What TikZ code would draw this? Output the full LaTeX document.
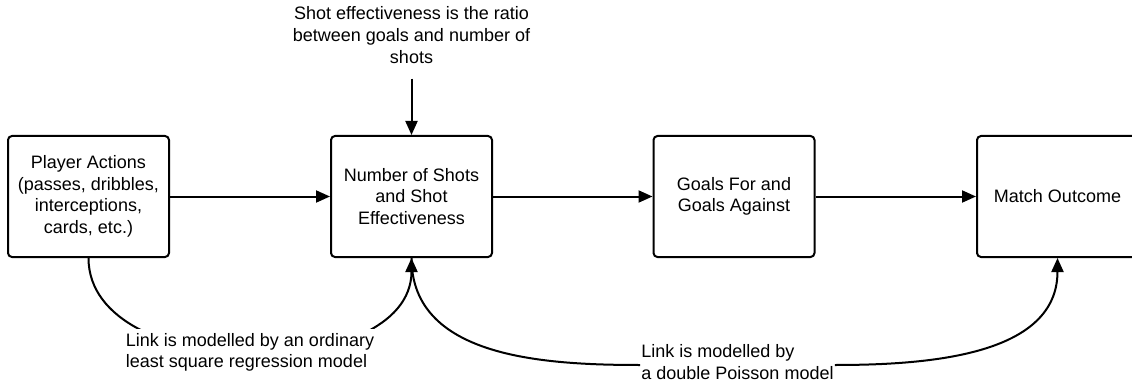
\documentclass[tikz,border=0pt]{standalone}
\usepackage{fontspec}
\setmainfont{Liberation Sans}
\usetikzlibrary{arrows.meta}

\begin{document}
\begin{tikzpicture}[x=1pt,y=-1pt,
		font=\fontsize{18}{21.6}\selectfont,
		stage/.style={draw, line width=2pt, rounded corners=4pt, minimum width=161pt, minimum height=121pt, align=center},
		remark/.style={align=left, inner sep=4pt},
		link/.style={line width=2pt, -{Triangle[length=14pt,width=12pt]}}]
	
	\useasboundingbox (0,0) rectangle (1132,385);
	\clip (0,0) rectangle (1132,385);
	
	\node[stage] (actions) at (88.5,196.5) {Player Actions\\(passes, dribbles,\\interceptions,\\cards, etc.)};
	\node[stage] (shots) at (411.5,196.5) {Number of Shots\\and Shot\\Effectiveness};
	\node[stage] (goals) at (734,196.5) {Goals For and\\Goals Against};
	\node[stage] (outcome) at (1057.5,196.5) {Match Outcome};
	
	\node[align=center] (ratio) at (411.5,35) {Shot effectiveness is the ratio\\between goals and number of\\shots};
	\node[remark, inner sep=1pt] (poisson) at (737.5,362) {Link is modelled by\\a double Poisson model};
	
	\draw[link] ([yshift=-12pt]ratio.south) -- (shots.north);
	\draw[link] (actions) -- (shots);
	\draw[link] (shots) -- (goals);
	\draw[link] (goals) -- (outcome);
	
	\draw[link] (actions.south) to[out=-90,in=-90] node[midway, remark, fill=white] (ols) {Link is modelled by an ordinary\\least square regression model} (shots.south);
	\draw[line width=2pt] (shots.south) to[out=-90,in=180] ([yshift=-3pt]poisson.west);
	\draw[link] ([yshift=-3pt]poisson.east) to[out=0,in=-90] (outcome.south);
\end{tikzpicture}
\end{document}
